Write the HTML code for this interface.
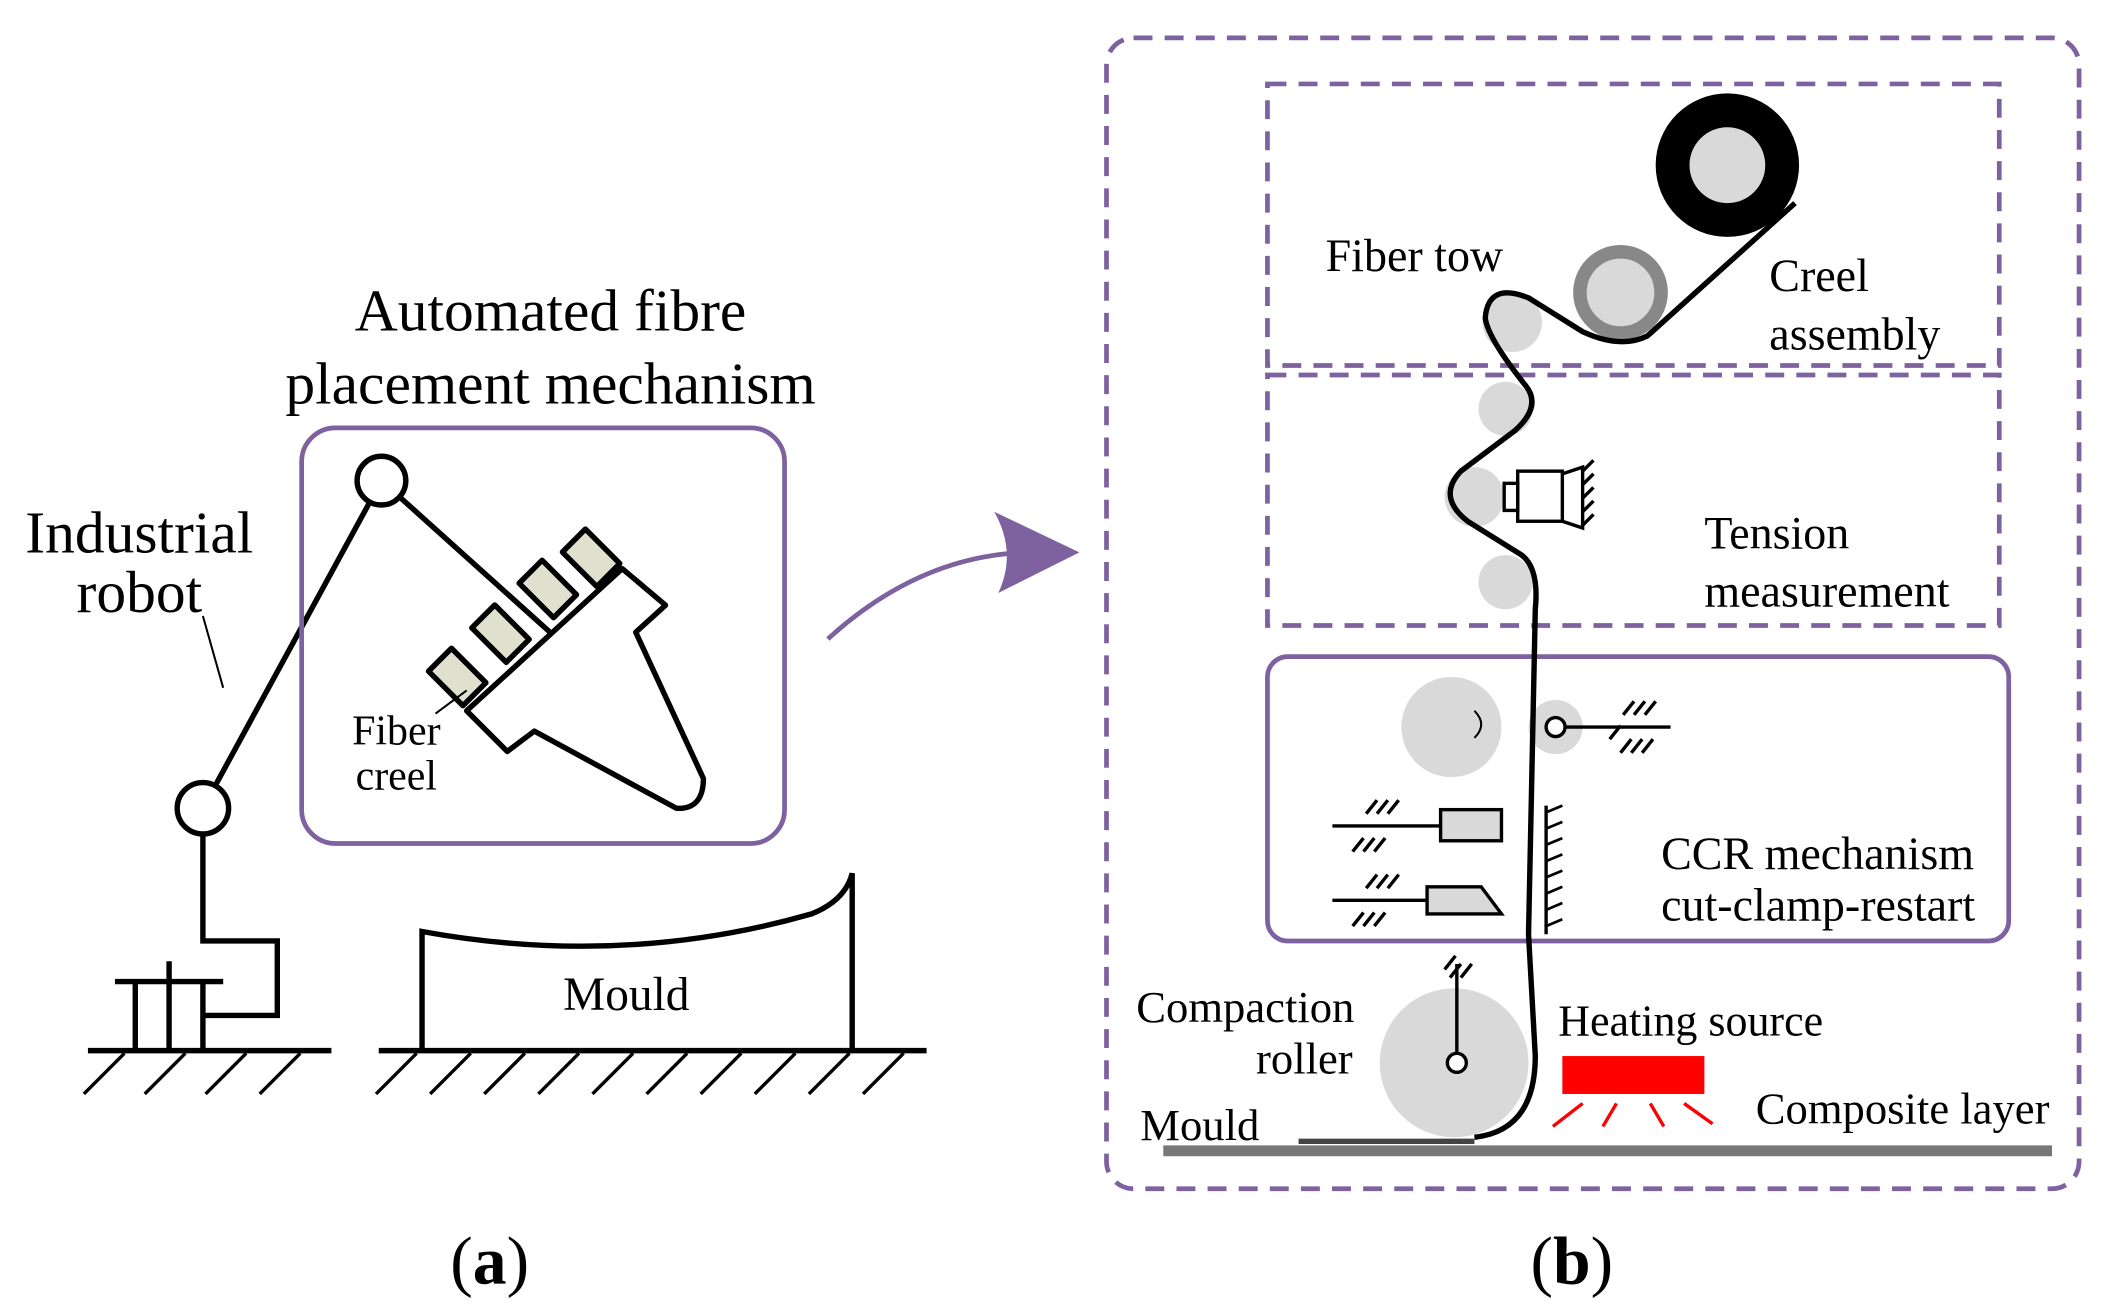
<!DOCTYPE html>
<html><head><meta charset="utf-8"><style>html,body{margin:0;padding:0;background:#fff}svg{display:block}</style></head>
<body>
<svg width="2121" height="1316" viewBox="0 0 1568 972" preserveAspectRatio="none" xmlns="http://www.w3.org/2000/svg" font-family="Liberation Serif, serif">
<g stroke="#000" stroke-width="4" fill="none">
<line x1="65" y1="776" x2="245" y2="776"/>
<line x1="280" y1="776" x2="685" y2="776"/>
<g stroke-width="2.5">
<line x1="62" y1="808" x2="92" y2="778"/><line x1="107" y1="808" x2="137" y2="778"/><line x1="152" y1="808" x2="182" y2="778"/><line x1="192" y1="808" x2="222" y2="778"/>
<line x1="278" y1="808" x2="308" y2="778"/><line x1="318" y1="808" x2="348" y2="778"/><line x1="358" y1="808" x2="388" y2="778"/><line x1="398" y1="808" x2="428" y2="778"/><line x1="438" y1="808" x2="468" y2="778"/><line x1="478" y1="808" x2="508" y2="778"/><line x1="518" y1="808" x2="548" y2="778"/><line x1="558" y1="808" x2="588" y2="778"/><line x1="598" y1="808" x2="628" y2="778"/><line x1="638" y1="808" x2="668" y2="778"/>
</g>
<line x1="85" y1="725" x2="165" y2="725"/>
<line x1="100" y1="725" x2="100" y2="776"/><line x1="125" y1="710" x2="125" y2="776"/><line x1="150" y1="725" x2="150" y2="776"/>
<polyline points="150,616 150,695 205,695 205,750 150,750"/>
<line x1="150" y1="597" x2="282" y2="355"/>
<circle cx="150" cy="597" r="19" fill="#fff"/>
<line x1="282" y1="355" x2="410" y2="470"/>
<circle cx="282" cy="355" r="18" fill="#fff"/>
<path d="M312,776 L312,688 Q460,715 600,675 Q625,665 630,645 L630,776"/>
</g>
<g stroke="#000" stroke-width="4" stroke-linejoin="round">
<g fill="#dfe0cd">
<rect x="-12" y="-18" width="24" height="36" transform="translate(338,500) rotate(-45)"/>
<rect x="-12" y="-18" width="24" height="36" transform="translate(370,468) rotate(-45)"/>
<rect x="-12" y="-18" width="24" height="36" transform="translate(405,435) rotate(-45)"/>
<rect x="-12" y="-18" width="24" height="36" transform="translate(437,412) rotate(-45)"/>
</g>
<path d="M345,525 L460,420 L492,447 L470,467 L520,575 Q520,598 500,597 L395,540 L375,555 Z" fill="#fff"/>
</g>
<rect x="223" y="316" width="357" height="307" rx="25" fill="none" stroke="#7e62a0" stroke-width="3.5"/>
<g font-size="44" text-anchor="middle"><text x="407" y="244">Automated fibre</text><text x="407" y="298">placement mechanism</text>
<text x="103" y="408">Industrial</text><text x="103" y="452">robot</text></g>
<line x1="150" y1="455" x2="165" y2="508" stroke="#000" stroke-width="1.5"/>
<line x1="322" y1="527" x2="345" y2="510" stroke="#000" stroke-width="1.5"/>
<g font-size="31" text-anchor="middle"><text x="293" y="550">Fiber</text><text x="293" y="583">creel</text></g>
<text x="463" y="746" font-size="35" text-anchor="middle">Mould</text>
<path d="M612,472 Q680,410 760,408" fill="none" stroke="#7e62a0" stroke-width="3.5"/>
<path d="M798,408 L735,378 Q752,408 738,438 Z" fill="#7e62a0"/>
<g fill="none" stroke="#7e62a0" stroke-width="3.5" stroke-dasharray="14,9">
<rect x="818" y="28" width="719" height="850" rx="20"/>
<rect x="937" y="62" width="541" height="208"/>
<rect x="937" y="277" width="541" height="185"/>
</g>
<rect x="937" y="485" width="548" height="210" rx="15" fill="none" stroke="#7e62a0" stroke-width="3.5"/>
<circle cx="1277" cy="122" r="53" fill="#000"/><circle cx="1277" cy="122" r="28" fill="#d9d9d9"/>
<circle cx="1198" cy="216" r="30" fill="#d9d9d9" stroke="#888" stroke-width="10"/>
<g fill="#d9d9d9">
<circle cx="1118" cy="238" r="22"/><circle cx="1113" cy="302" r="20"/><circle cx="1090" cy="367" r="22"/><circle cx="1113" cy="430" r="20"/>
<circle cx="1073" cy="537" r="37"/><circle cx="1150" cy="537" r="20"/><circle cx="1075" cy="785" r="55"/>
</g>
<path d="M1327,150 L1218,248 Q1198,258 1170,245 L1130,220 Q1100,208 1098,235 Q1100,250 1128,285 Q1140,300 1120,318 L1080,348 Q1062,367 1085,385 L1125,410 Q1138,420 1135,450 L1130,690 L1135,780 Q1135,835 1090,840" fill="none" stroke="#000" stroke-width="4"/>
<line x1="960" y1="843" x2="1090" y2="843" stroke="#444" stroke-width="4"/>
<line x1="860" y1="850" x2="1517" y2="850" stroke="#777" stroke-width="8"/>
<g stroke="#000" stroke-width="2.5" fill="none">
<rect x="1122" y="348" width="33" height="37" fill="#fff"/><rect x="1112" y="357" width="10" height="20" fill="#fff"/>
<polyline points="1155,350 1170,345 1170,390 1155,385"/>
<line x1="1170" y1="348" x2="1178" y2="340"/><line x1="1170" y1="358" x2="1178" y2="350"/><line x1="1170" y1="368" x2="1178" y2="360"/><line x1="1170" y1="378" x2="1178" y2="370"/><line x1="1170" y1="388" x2="1178" y2="380"/>
<line x1="1157" y1="537" x2="1235" y2="537"/>
<line x1="1200" y1="528" x2="1208" y2="518"/><line x1="1208" y1="528" x2="1216" y2="518"/><line x1="1216" y1="528" x2="1224" y2="518"/>
<line x1="1190" y1="546" x2="1198" y2="536"/><line x1="1198" y1="556" x2="1206" y2="546"/><line x1="1206" y1="556" x2="1214" y2="546"/><line x1="1214" y1="556" x2="1222" y2="546"/>
<circle cx="1150" cy="537" r="7" fill="#fff"/>
<rect x="1065" y="598" width="45" height="23" fill="#d9d9d9"/>
<line x1="985" y1="610" x2="1065" y2="610"/>
<path d="M1055,655 L1095,655 L1110,675 L1055,675 Z" fill="#d9d9d9"/>
<line x1="985" y1="665" x2="1055" y2="665"/>
<line x1="1010" y1="601" x2="1018" y2="591"/><line x1="1018" y1="601" x2="1026" y2="591"/><line x1="1026" y1="601" x2="1034" y2="591"/>
<line x1="1000" y1="629" x2="1008" y2="619"/><line x1="1008" y1="629" x2="1016" y2="619"/><line x1="1016" y1="629" x2="1024" y2="619"/>
<line x1="1010" y1="656" x2="1018" y2="646"/><line x1="1018" y1="656" x2="1026" y2="646"/><line x1="1026" y1="656" x2="1034" y2="646"/>
<line x1="1000" y1="684" x2="1008" y2="674"/><line x1="1008" y1="684" x2="1016" y2="674"/><line x1="1016" y1="684" x2="1024" y2="674"/>
<line x1="1143" y1="595" x2="1143" y2="690"/>
<g stroke-width="2"><line x1="1143" y1="600" x2="1155" y2="595"/><line x1="1143" y1="612" x2="1155" y2="607"/><line x1="1143" y1="624" x2="1155" y2="619"/><line x1="1143" y1="636" x2="1155" y2="631"/><line x1="1143" y1="648" x2="1155" y2="643"/><line x1="1143" y1="660" x2="1155" y2="655"/><line x1="1143" y1="672" x2="1155" y2="667"/><line x1="1143" y1="684" x2="1155" y2="679"/></g>
<path d="M1090,545 Q1100,535 1090,525" stroke-width="1.5"/>
<line x1="1077" y1="712" x2="1077" y2="778"/>
<line x1="1068" y1="716" x2="1076" y2="706"/><line x1="1072" y1="722" x2="1080" y2="712"/><line x1="1080" y1="722" x2="1088" y2="712"/>
<circle cx="1077" cy="785" r="7" fill="#fff"/>
</g>
<rect x="1155" y="780" width="105" height="28" fill="#f00"/>
<g stroke="#f00" stroke-width="2.5"><line x1="1170" y1="815" x2="1148" y2="832"/><line x1="1195" y1="815" x2="1185" y2="832"/><line x1="1220" y1="815" x2="1230" y2="832"/><line x1="1245" y1="815" x2="1266" y2="830"/></g>
<g font-size="34">
<text x="980" y="200">Fiber tow</text><text x="1308" y="215">Creel</text><text x="1308" y="258">assembly</text>
<text x="1260" y="405">Tension</text><text x="1260" y="448">measurement</text>
<text x="1228" y="642">CCR mechanism</text><text x="1228" y="680">cut-clamp-restart</text>
<text x="840" y="755" font-size="33">Compaction</text><text x="1000" y="793" text-anchor="end" font-size="33">roller</text>
<text x="1152" y="765" font-size="32.5">Heating source</text><text x="843" y="842" font-size="33">Mould</text><text x="1298" y="830" font-size="33">Composite layer</text>
</g>
<g font-size="50" text-anchor="middle"><text x="362" y="948">(<tspan font-weight="bold">a</tspan>)</text><text x="1162" y="948">(<tspan font-weight="bold">b</tspan>)</text></g>
</svg>
</body></html>
